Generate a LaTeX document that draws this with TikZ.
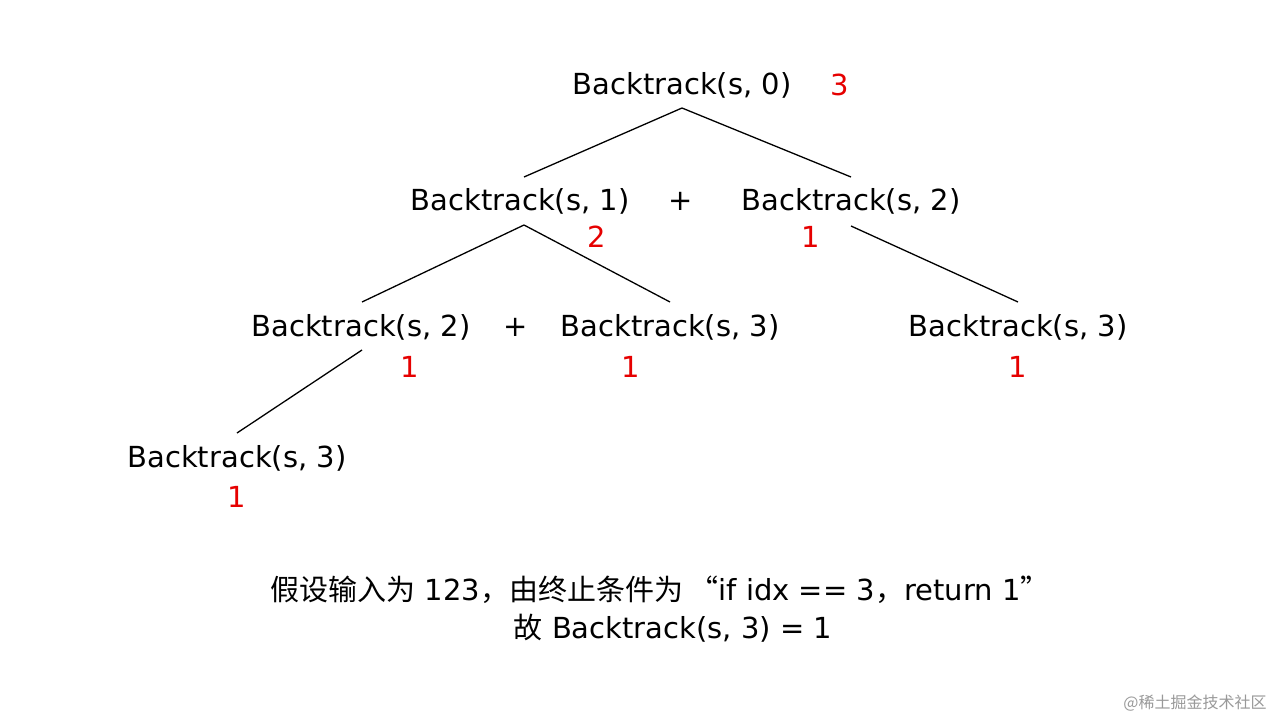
\documentclass[tikz,border=0pt]{standalone}
\usepackage{fontspec}
\setmainfont{DejaVu Sans}
\newfontfamily\cjk{Noto Sans CJK SC}
\definecolor{rd}{RGB}{230,0,0}
\begin{document}
\begin{tikzpicture}[x=1pt,y=-1pt,
  t/.style={inner sep=0pt,font=\fontsize{29}{32}\selectfont},
  r/.style={t,text=rd},
  e/.style={line width=1.3pt}]
\fill[white] (0,0) rectangle (1280,720);
\useasboundingbox (0,0) rectangle (1280,720);
\node[t] (r) at (682,85) {Backtrack(s, 0)};
\node[r] (r3) at (840,85) {3};
\node[t] (a) at (520,201) {Backtrack(s, 1)};
\node[t] (p1) at (681,201) {+};
\node[t] (b) at (851,201) {Backtrack(s, 2)};
\node[r] (a2) at (597,237) {2};
\node[r] (b1) at (811,237) {1};
\node[t] (c) at (361,327) {Backtrack(s, 2)};
\node[t] (p2) at (516,327) {+};
\node[t] (d) at (670,327) {Backtrack(s, 3)};
\node[t] (f) at (1018,327) {Backtrack(s, 3)};
\node[r] (c1) at (410,367) {1};
\node[r] (d1) at (631,367) {1};
\node[r] (f1) at (1018,367) {1};
\node[t] (g) at (237,458) {Backtrack(s, 3)};
\node[r] (g1) at (237,497) {1};
\coordinate (rs) at (682,108);
\coordinate (an) at (524,177); \coordinate (bn) at (851,177);
\coordinate (as) at (524,225); \coordinate (bs) at (851,226);
\coordinate (cn) at (362,302); \coordinate (dn) at (670,302); \coordinate (fn) at (1018,302);
\coordinate (cs) at (362,350); \coordinate (gn) at (237,433);
\draw[e] (rs) -- (an); \draw[e] (rs) -- (bn);
\draw[e] (as) -- (cn); \draw[e] (as) -- (dn);
\draw[e] (bs) -- (fn);
\draw[e] (cs) -- (gn);
\node[t] (n1) at (660,590) {{\cjk 假设输入为} 123{\cjk ，由终止条件为 “}if idx == 3{\cjk ，}return 1{\cjk ”}};
\node[t] (n2) at (673,628) {{\cjk 故} Backtrack(s, 3) = 1};
\node[inner sep=0pt,text=gray!80,font=\cjk\fontsize{16}{18}\selectfont] (w) at (1195,703) {@稀土掘金技术社区};
\end{tikzpicture}
\end{document}
